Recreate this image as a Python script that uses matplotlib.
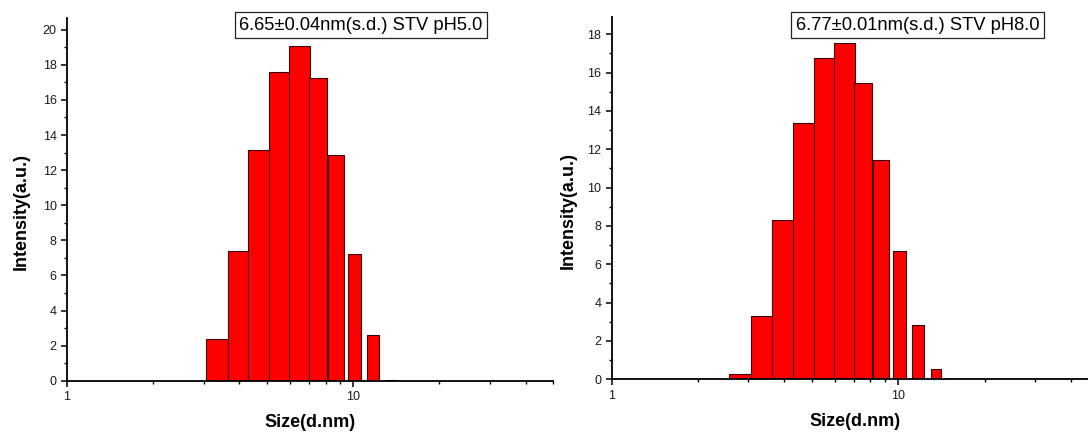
import matplotlib
matplotlib.use("Agg")
import matplotlib.pyplot as plt
from matplotlib.ticker import FixedLocator, MultipleLocator, LogLocator, NullFormatter

plt.rcParams['font.family'] = ['Liberation Sans', 'DejaVu Sans']

# size bins (d.nm) and intensities
sizes_ph5 = [3.615, 4.187, 4.849, 5.615, 6.503, 7.531, 8.721, 10.1, 11.7, 13.54]
intensity_ph5 = [2.35, 7.37, 13.12, 17.6, 19.07, 17.25, 12.84, 7.24, 2.58, 0.06]

sizes_ph8 = [3.122, 3.615, 4.187, 4.849, 5.615, 6.503, 7.531, 8.721, 10.1, 11.7, 13.54]
intensity_ph8 = [0.3, 3.28, 8.33, 13.36, 16.77, 17.56, 15.43, 11.42, 6.68, 2.81, 0.52]

label_ph5 = "6.65\u00b10.04nm(s.d.) STV pH5.0"
label_ph8 = "6.77\u00b10.01nm(s.d.) STV pH8.0"

xtick_vals = [1, 10]
xtick_labels = ["1", "10"]

fig = plt.figure(figsize=(10.88, 4.36), dpi=100)
ax1 = fig.add_axes([0.0616, 0.1268, 0.447, 0.8312])
ax2 = fig.add_axes([0.5622, 0.1300, 0.4475, 0.8303])


def draw(ax, sizes, vals, ytop, label, tx, ty, ylab_x):
    ax.set_xscale('log')
    # bars drawn in order, each later bar covers the right part of the one before
    ax.bar(sizes, vals, width=1.1, color='#ff0000', edgecolor='#3a0000',
           linewidth=0.8, align='center')
    ax.set_xlim(1, 50)
    ax.set_ylim(0, ytop)
    for s in ['top', 'right']:
        ax.spines[s].set_visible(False)
    for s in ['left', 'bottom']:
        ax.spines[s].set_linewidth(1.3)
    ax.xaxis.set_major_locator(FixedLocator(xtick_vals))
    ax.set_xticklabels(xtick_labels)
    ax.xaxis.set_minor_locator(LogLocator(base=10, subs=range(2, 10)))
    ax.xaxis.set_minor_formatter(NullFormatter())
    ax.yaxis.set_major_locator(MultipleLocator(2))
    ax.yaxis.set_minor_locator(MultipleLocator(1))
    ax.tick_params(which='major', direction='out', length=4.5, width=1.1,
                   labelsize=9, labelcolor='#1a1a1a', pad=3)
    ax.tick_params(which='minor', direction='out', length=2.5, width=1.0)
    ax.set_xlabel("Size(d.nm)", fontsize=13, fontweight='bold')
    ax.set_ylabel("Intensity(a.u.)", fontsize=13, fontweight='bold')
    ax.xaxis.set_label_coords(0.5, -0.092)
    ax.yaxis.set_label_coords(ylab_x, 0.467)
    ax.text(tx, ty, label, transform=ax.transAxes, fontsize=13.2,
            ha='left', va='center', clip_on=False,
            bbox=dict(boxstyle='square,pad=0.25', facecolor='white',
                      edgecolor='#222222', linewidth=0.9))


draw(ax1, sizes_ph5, intensity_ph5, 20.65, label_ph5, 0.354, 0.981, -0.077)
draw(ax2, sizes_ph8, intensity_ph8, 18.88, label_ph8, 0.3785, 0.978, -0.072)

fig.savefig("out.png", dpi=100)
